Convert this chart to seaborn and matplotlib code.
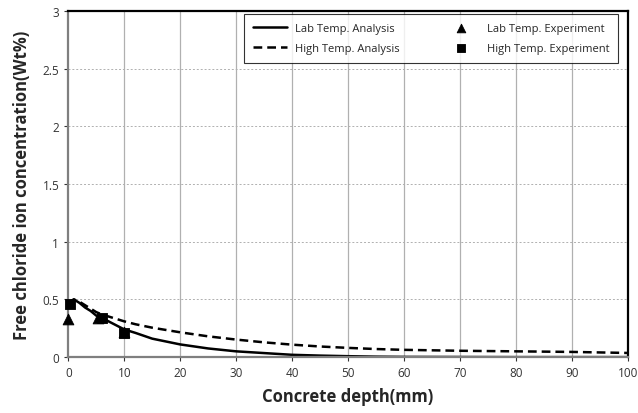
import numpy as np
import pandas as pd
import seaborn as sns
import matplotlib.pyplot as plt

# depth (mm) for analysis curves
depth = [0, 1, 2, 3, 4, 5, 6, 8, 10, 12, 15, 20, 25, 30, 35, 40, 45, 50, 55, 60, 70, 80, 90, 100]
lab_analysis = [0.47, 0.50, 0.47, 0.43, 0.40, 0.36, 0.34, 0.29, 0.24, 0.21, 0.16, 0.11, 0.075, 0.05,
                0.035, 0.02, 0.013, 0.008, 0.004, 0.002, 0.001, 0.0, 0.0, 0.0]
high_analysis = [0.47, 0.50, 0.48, 0.45, 0.42, 0.39, 0.37, 0.34, 0.31, 0.285, 0.255, 0.215, 0.18, 0.152,
                 0.128, 0.108, 0.092, 0.08, 0.07, 0.063, 0.055, 0.05, 0.045, 0.036]

# experiment points
lab_exp_x = [0, 5.4, 10]
lab_exp_y = [0.33, 0.34, 0.22]
high_exp_x = [0.3, 6, 10]
high_exp_y = [0.46, 0.34, 0.21]

xticks = list(range(0, 101, 10))
yticks = [0, 0.5, 1, 1.5, 2, 2.5, 3]
yticklabels = ['0', '0.5', '1', '1.5', '2', '2.5', '3']

sns.set_style("white")
plt.rcParams['font.family'] = ['Open Sans', 'DejaVu Sans']

fig = plt.figure(figsize=(6.38, 4.14), dpi=100)
ax = fig.add_axes([0.107, 0.135, 0.877, 0.836])

ana = pd.DataFrame({'depth': depth, 'lab': lab_analysis, 'high': high_analysis})
sns.lineplot(data=ana, x='depth', y='lab', ax=ax, color='black', lw=1.8, label='Lab Temp. Analysis')
sns.lineplot(data=ana, x='depth', y='high', ax=ax, color='black', lw=1.8, linestyle=(0, (3.5, 2)),
             label='High Temp. Analysis')
sns.scatterplot(x=lab_exp_x, y=lab_exp_y, ax=ax, marker='^', s=60, color='black', edgecolor='black',
                label='Lab Temp. Experiment', zorder=5, clip_on=False)
sns.scatterplot(x=high_exp_x, y=high_exp_y, ax=ax, marker='s', s=60, color='black', edgecolor='black',
                label='High Temp. Experiment', zorder=5, clip_on=False)

ax.set_xlim(0, 100)
ax.set_ylim(0, 3)
ax.set_xticks(xticks)
ax.set_yticks(yticks)
ax.set_yticklabels(yticklabels)
ax.tick_params(labelsize=8.5, colors='#333333', length=3, direction='out', left=True, bottom=True)

for x in xticks[1:-1]:
    ax.axvline(x, color='#b0b0b0', lw=0.9, zorder=0)
for y in yticks[1:-1]:
    ax.axhline(y, color='#b0b0b0', lw=0.7, ls=(0, (2, 2)), zorder=0)

for side in ['left', 'bottom']:
    ax.spines[side].set_color('#7f7f7f')
    ax.spines[side].set_linewidth(1.6)
for side in ['top', 'right']:
    ax.spines[side].set_color('black')
    ax.spines[side].set_linewidth(1.6)

ax.set_xlabel('Concrete depth(mm)', fontsize=12, fontweight='bold', labelpad=6)
ax.set_ylabel('Free chloride ion concentration(Wt%)', fontsize=12, fontweight='bold', labelpad=8)

h, l = ax.get_legend_handles_labels()
leg = ax.legend(h, l, ncol=2, loc='upper right', bbox_to_anchor=(0.983, 0.99), fontsize=8,
                frameon=True, fancybox=False, edgecolor='black', columnspacing=4.0,
                handlelength=3.0, borderpad=0.8, labelspacing=0.8, borderaxespad=0, markerscale=0.8)
leg.get_frame().set_linewidth(0.8)
leg.set_zorder(6)

fig.savefig('out.png', dpi=100)
